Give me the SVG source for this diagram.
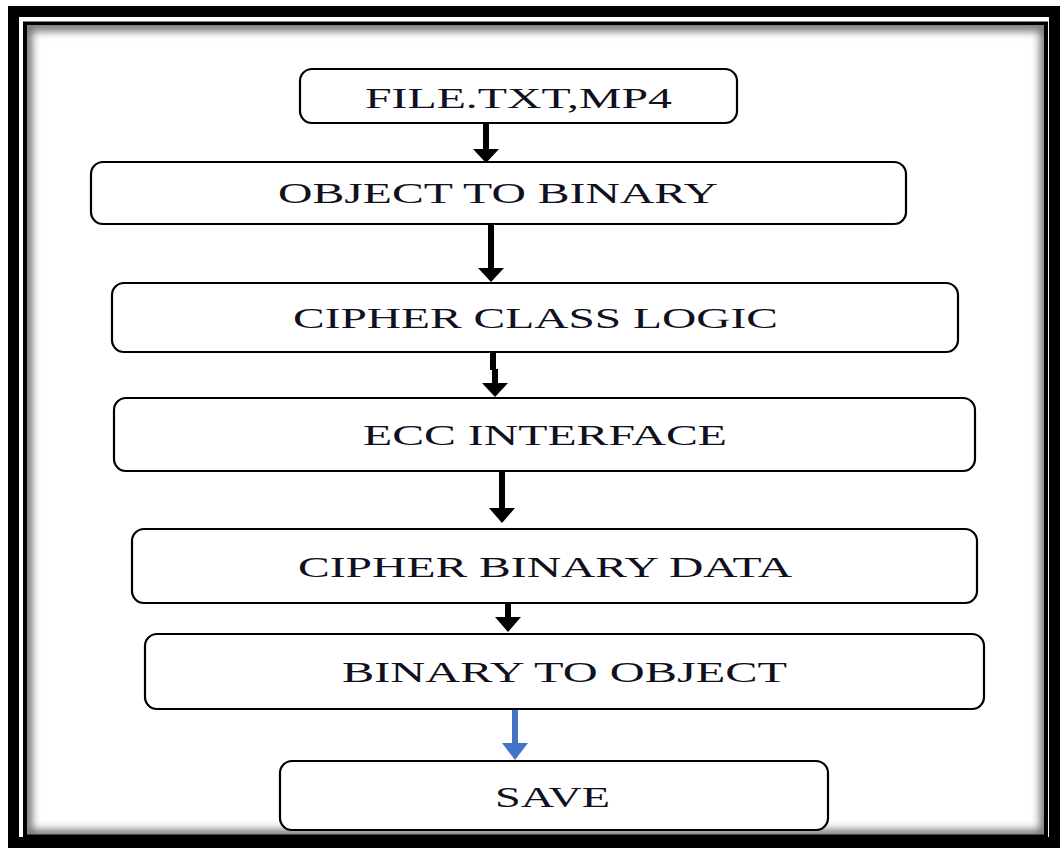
<svg xmlns="http://www.w3.org/2000/svg" width="1060" height="848" viewBox="0 0 1060 848">
<defs>
<style>
.box{fill:#fff;stroke:#000;stroke-width:2.2}
.lbl{font-family:"Liberation Serif","Times New Roman",serif;font-size:30px;fill:#10101e}
.shaft{stroke:#000;stroke-width:6;fill:none}
.head{fill:#000}
.blue{stroke:#4472C4}
.bhead{fill:#4472C4}
</style>
<clipPath id="inner"><rect x="27" y="26" width="1018" height="809"/></clipPath>
<filter id="blur" x="-5%" y="-5%" width="110%" height="110%"><feGaussianBlur stdDeviation="4"/></filter>
</defs>
<rect x="0" y="0" width="1060" height="848" fill="#fff"/>
<g id="frame">
<g clip-path="url(#inner)"><rect x="27" y="26" width="1018" height="809" fill="none" stroke="#6a6a6a" stroke-width="10" filter="url(#blur)"/></g>
<rect x="13.5" y="11.5" width="1041" height="831" fill="none" stroke="#000" stroke-width="11"/>
<rect x="25" y="23.5" width="1021" height="813" fill="none" stroke="#000" stroke-width="4"/>
</g>
<g id="connectors">
<line class="shaft" x1="486" y1="124" x2="486" y2="150"/>
<polygon class="head" points="473,149 499,149 486,163"/>
<line class="shaft" x1="491" y1="224" x2="491" y2="270"/>
<polygon class="head" points="478,268 504,268 491,282"/>
<line class="shaft" x1="493" y1="352" x2="493" y2="370"/>
<line class="shaft" x1="495" y1="369" x2="495" y2="385"/>
<polygon class="head" points="482,383 508,383 495,397"/>
<line class="shaft" x1="502" y1="471" x2="502" y2="510"/>
<polygon class="head" points="489,508 515,508 502,523"/>
<line class="shaft" x1="508" y1="603" x2="508" y2="619"/>
<polygon class="head" points="495,617 521,617 508,632"/>
<line class="shaft blue" x1="515" y1="710" x2="515" y2="745"/>
<polygon class="bhead" points="502,743 528,743 515,760"/>
</g>
<g id="n1"><rect class="box" x="300" y="69" width="437" height="54" rx="12"/><text class="lbl" x="365" y="108" textLength="307" lengthAdjust="spacingAndGlyphs">FILE.TXT,MP4</text></g>
<g id="n2"><rect class="box" x="91" y="162" width="815" height="62" rx="12"/><text class="lbl" x="278" y="203" textLength="440" lengthAdjust="spacingAndGlyphs">OBJECT TO BINARY</text></g>
<g id="n3"><rect class="box" x="112" y="283" width="846" height="69" rx="12"/><text class="lbl" x="293" y="328" textLength="485" lengthAdjust="spacingAndGlyphs">CIPHER CLASS LOGIC</text></g>
<g id="n4"><rect class="box" x="114" y="398" width="861" height="73" rx="12"/><text class="lbl" x="363" y="445" textLength="364" lengthAdjust="spacingAndGlyphs">ECC INTERFACE</text></g>
<g id="n5"><rect class="box" x="132" y="529" width="845" height="74" rx="12"/><text class="lbl" x="298" y="577" textLength="494" lengthAdjust="spacingAndGlyphs">CIPHER BINARY DATA</text></g>
<g id="n6"><rect class="box" x="145" y="634" width="839" height="75" rx="12"/><text class="lbl" x="342" y="682" textLength="445" lengthAdjust="spacingAndGlyphs">BINARY TO OBJECT</text></g>
<g id="n7"><rect class="box" x="280" y="761" width="548" height="69" rx="12"/><text class="lbl" x="495" y="807" textLength="115" lengthAdjust="spacingAndGlyphs">SAVE</text></g>
</svg>
